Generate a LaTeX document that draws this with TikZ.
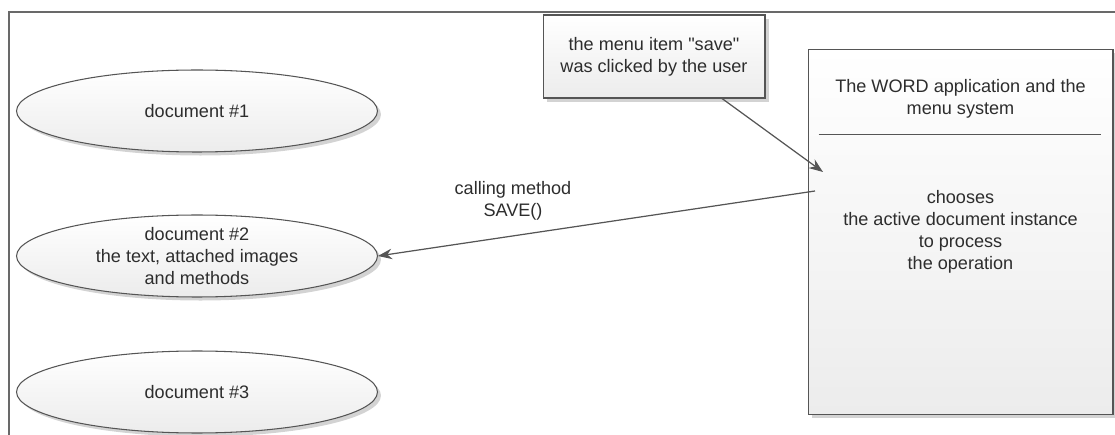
\documentclass[tikz,border=0pt]{standalone}
\usepackage{fontspec}
\setmainfont{Liberation Sans}
\definecolor{linegray}{RGB}{85, 85, 85}
\definecolor{framegray}{RGB}{105, 105, 105}
\definecolor{shapefill}{RGB}{236, 236, 236}
\definecolor{textgray}{RGB}{45, 45, 45}
\usetikzlibrary{shapes.geometric, arrows.meta, calc, shadows}
\tikzset{
    docnode/.style={
        ellipse, minimum width=7.22cm, minimum height=1.64cm, inner sep=0pt,
        draw=linegray, top color=white, bottom color=shapefill, text=textgray,
        font=\fontsize{10.3}{12.4}\selectfont, align=center, line width=0.6pt,
        drop shadow={opacity=0.35, shadow xshift=2pt, shadow yshift=-2pt}
    },
    notebox/.style={
        rectangle, minimum width=#1, inner sep=0pt,
        draw=linegray, top color=white, bottom color=shapefill, text=textgray,
        font=\fontsize{10.3}{12.4}\selectfont, align=center, line width=0.6pt,
        drop shadow={opacity=0.35, shadow xshift=2pt, shadow yshift=-2pt}
    },
    arrow/.style={-{Stealth[length=8pt, width=6pt]}, line width=0.7pt, color=linegray},
    anno/.style={font=\fontsize{10.3}{12.4}\selectfont, text=textgray, align=center},
    frame/.style={line width=1.1pt, color=framegray}
}
\begin{document}
\begin{tikzpicture}[x=0.02cm, y=-0.02cm]
    \useasboundingbox (0,0) rectangle (1115,435);

    % Surrounding frame
    \draw[frame] (9,435) -- (9,12) -- (1115,12);

    % Document instances
    \node[docnode] (doc1) at (197,111) {document \#1};
    \node[docnode] (doc2) at (197,256) {document \#2\\the text, attached images\\and methods};
    \node[docnode] (doc3) at (197,392) {document \#3};

    % Application and menu
    \node[notebox=4.44cm, minimum height=1.66cm] (menu) at (654,56.5)
        {the menu item \textquotedbl save\textquotedbl\\was clicked by the user};
    \node[notebox=6.1cm, minimum height=7.32cm] (word) at (960.5,232)
        {chooses\\the active document instance\\to process\\the operation};
    \node[anno] (title) at ($(word.north)+(0,50)$) {The WORD application and the\\menu system};
    \draw[linegray, line width=0.6pt] ($(word.north west)+(11,86)$) -- ($(word.north east)+(-13,86)$);

    \coordinate (clicked) at (823,172);
    \coordinate (callout) at (815,191);

    \draw[arrow] ($(menu.south)!0.61!(menu.south east)$) -- (clicked);
    \draw[arrow] (callout) -- (doc2.east);

    \node[anno] (call) at (513,201) {calling method\\SAVE()};

\end{tikzpicture}
\end{document}
